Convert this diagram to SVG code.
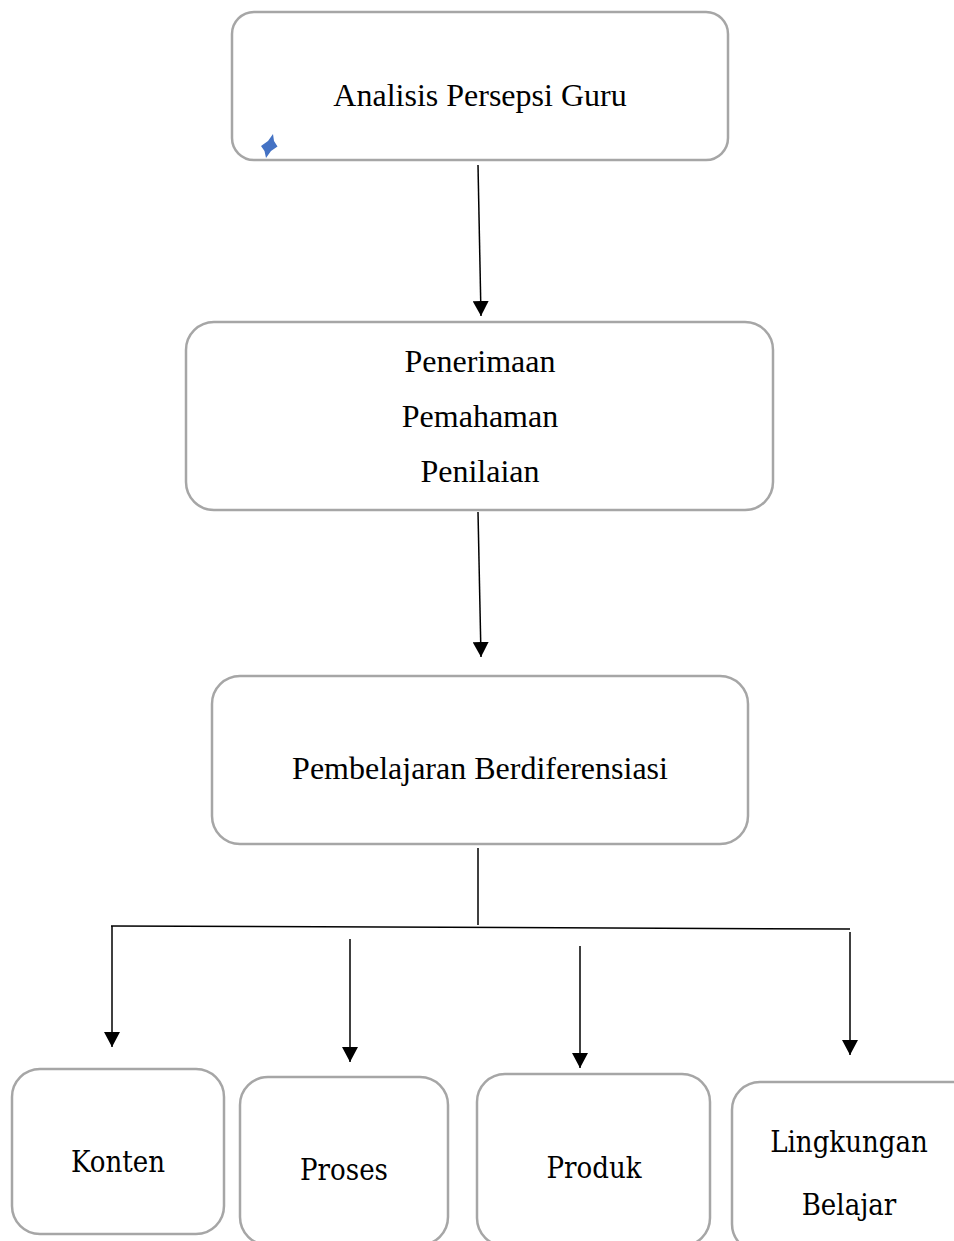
<svg xmlns="http://www.w3.org/2000/svg" width="954" height="1241" viewBox="0 0 954 1241">
<style>
.box{fill:#fff;stroke:#a6a6a6;stroke-width:2.5}
.t{font-family:"Liberation Serif","Times New Roman",serif;font-size:32px;fill:#000;text-anchor:middle}
.c{font-family:"DejaVu Serif Condensed","DejaVu Serif",serif;font-stretch:condensed;font-size:29px;fill:#000;text-anchor:middle}
.ln{stroke:#000;stroke-width:1.5;fill:none}
</style>
<defs>
<marker id="ah" markerUnits="userSpaceOnUse" viewBox="0 0 15 16" refX="15" refY="8" markerWidth="15" markerHeight="16" orient="auto">
<path d="M0,0 L15,8 L0,16 z" fill="#000"/>
</marker>
</defs>
<rect width="954" height="1241" fill="#fff"/>
<g id="connectors">
<line class="ln" x1="478" y1="165" x2="481" y2="316" marker-end="url(#ah)"/>
<line class="ln" x1="478" y1="512" x2="481" y2="657" marker-end="url(#ah)"/>
<line class="ln" x1="478" y1="848" x2="478" y2="925"/>
<line class="ln" x1="111" y1="926" x2="850" y2="929"/>
<line class="ln" x1="112" y1="926" x2="112" y2="1047" marker-end="url(#ah)"/>
<line class="ln" x1="350" y1="939" x2="350" y2="1062" marker-end="url(#ah)"/>
<line class="ln" x1="580" y1="946" x2="580" y2="1068" marker-end="url(#ah)"/>
<line class="ln" x1="850" y1="932" x2="850" y2="1055" marker-end="url(#ah)"/>
</g>
<g id="node-analisis">
<rect class="box" x="232" y="12" width="496" height="148" rx="22"/>
<text class="t" x="480" y="106">Analisis Persepsi Guru</text>
<polygon points="273,134 274,141 277.5,146.5 271,151 266,158 264.5,151 261,146 268,141" fill="#4472c4"/>
</g>
<g id="node-persepsi">
<rect class="box" x="186" y="322" width="587" height="188" rx="28"/>
<text class="t" x="480" y="372">Penerimaan</text>
<text class="t" x="480" y="427">Pemahaman</text>
<text class="t" x="480" y="482">Penilaian</text>
</g>
<g id="node-pembelajaran">
<rect class="box" x="212" y="676" width="536" height="168" rx="28"/>
<text class="t" x="480" y="779">Pembelajaran Berdiferensiasi</text>
</g>
<g id="node-konten">
<rect class="box" x="12" y="1069" width="212" height="165" rx="28"/>
<text class="c" x="118" y="1172">Konten</text>
</g>
<g id="node-proses">
<rect class="box" x="240" y="1077" width="208" height="168" rx="28"/>
<text class="c" x="344" y="1180">Proses</text>
</g>
<g id="node-produk">
<rect class="box" x="477" y="1074" width="233" height="172" rx="28"/>
<text class="c" x="594" y="1178">Produk</text>
</g>
<g id="node-lingkungan">
<rect class="box" x="732" y="1082" width="250" height="170" rx="28"/>
<text class="c" x="849" y="1152">Lingkungan</text>
<text class="c" x="849" y="1215">Belajar</text>
</g>
</svg>
